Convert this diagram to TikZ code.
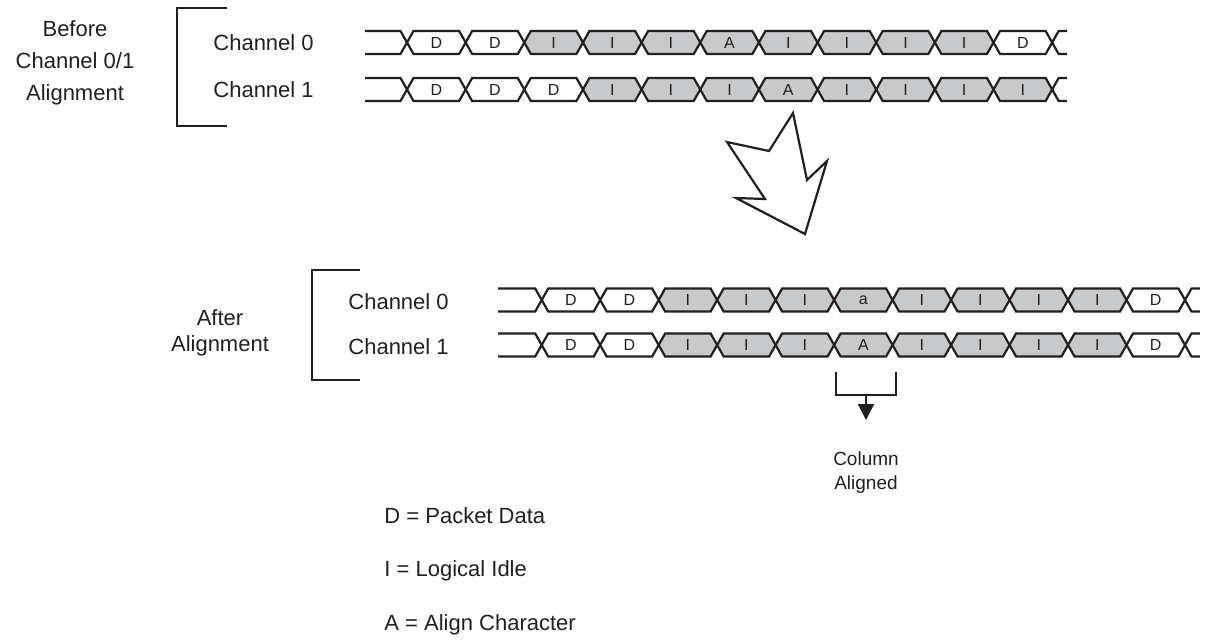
\documentclass[tikz,border=0pt]{standalone}
\usepackage{fontspec}
\setmainfont{Liberation Sans}
\usetikzlibrary{arrows.meta}

\definecolor{ink}{RGB}{35,31,32}
\definecolor{idle}{RGB}{200,201,203}

\tikzset{
  cell/.style={draw=ink, line width=1.1pt, line join=miter},
  celltext/.style={font=\fontsize{8}{9}\selectfont, text=ink, inner sep=0pt},
  chname/.style={font=\fontsize{11}{13}\selectfont, text=ink, anchor=west, inner sep=0pt},
  bigtext/.style={font=\fontsize{11}{16}\selectfont, text=ink, align=center, inner sep=0pt},
  bracket/.style={draw=ink, line width=1.1pt},
}

% one channel line: name, start, first crossing, pitch, centre y, cells
\newcommand{\sigrow}[6]{%
  \draw[cell] (#2,#5-11.5) -- (#3-6.5,#5-11.5) -- (#3,#5) -- (#3-6.5,#5+11.5) -- (#2,#5+11.5);
  \foreach \lab/\shade [count=\i from 0] in {#6} {
    \pgfmathsetmacro\xa{#3+\i*#4}
    \pgfmathsetmacro\xb{\xa+#4}
    \draw[cell, fill=\shade] (\xa,#5) -- (\xa+6.5,#5-11.5) -- (\xb-6.5,#5-11.5) -- (\xb,#5)
      -- (\xb-6.5,#5+11.5) -- (\xa+6.5,#5+11.5) -- cycle;
    \node[celltext] (#1-\i) at ({(\xa+\xb)/2},#5) {\lab};
  }
  \draw[cell] (#3+11*#4+15,#5-11.5) -- (#3+11*#4+6.5,#5-11.5) -- (#3+11*#4,#5)
    -- (#3+11*#4+6.5,#5+11.5) -- (#3+11*#4+15,#5+11.5);
}

\begin{document}
\begin{tikzpicture}[x=0.5pt, y=-0.5pt]
    \useasboundingbox (0,0) rectangle (1209,643);

    % Before alignment
    \node[bigtext] (before) at (75,63) {Before\\Channel 0/1\\Alignment};
    \draw[bracket] (227,8) -- (177,8) -- (177,126) -- (227,126);
    \node[chname] (tch0) at (213,43) {Channel 0};
    \node[chname] (tch1) at (213,90) {Channel 1};
    \sigrow{ta}{365}{407}{58.65}{42.5}{D/white,D/white,I/idle,I/idle,I/idle,A/idle,I/idle,I/idle,I/idle,I/idle,D/white}
    \sigrow{tb}{365}{407}{58.65}{89.5}{D/white,D/white,D/white,I/idle,I/idle,I/idle,A/idle,I/idle,I/idle,I/idle,I/idle}

    % Big arrow
    \draw[bracket, line join=miter] (727,142) -- (769,151) -- (793,113) -- (807,180) -- (827,161)
      -- (805,234) -- (736,198) -- (765,199) -- cycle;

    % After alignment
    \node[bigtext, font=\fontsize{11}{13}\selectfont] (after) at (220,333) {After\\Alignment};
    \draw[bracket] (360,270) -- (312,270) -- (312,380) -- (360,380);
    \node[chname] (bch0) at (348,302) {Channel 0};
    \node[chname] (bch1) at (348,347) {Channel 1};
    \sigrow{ba}{498}{541.7}{58.48}{300}{D/white,D/white,I/idle,I/idle,I/idle,a/idle,I/idle,I/idle,I/idle,I/idle,D/white}
    \sigrow{bb}{498}{541.7}{58.48}{345}{D/white,D/white,I/idle,I/idle,I/idle,A/idle,I/idle,I/idle,I/idle,I/idle,D/white}

    % Column marker
    \coordinate (colmid) at (866,395);
    \coordinate (coltip) at (866,420);
    \draw[bracket] (836,372) -- (836,395) -- (896,395) -- (896,372);
    \draw[bracket, -{Triangle[width=8pt, length=8pt]}] (colmid) -- (coltip);
    \node[bigtext, font=\fontsize{9.5}{12}\selectfont] (colaligned) at (866,473) {Column\\Aligned};

    % Legend
    \node[chname] (keyd) at (384,516) {D = Packet Data};
    \node[chname] (keyi) at (384,571) {I = Logical Idle};
    \node[chname] (keya) at (384,625) {A = Align Character};
\end{tikzpicture}
\end{document}
